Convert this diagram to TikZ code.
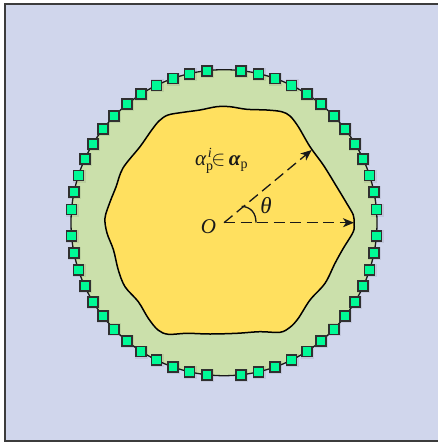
\documentclass[tikz,border=0pt]{standalone}
\usepackage{fix-cm}
\usepackage{amsmath}
\usepackage{fontspec}
\setmainfont{Liberation Serif}
\usetikzlibrary{arrows.meta}
\definecolor{bgblue}{RGB}{208,214,236}
\definecolor{ringgreen}{RGB}{203,224,171}
\definecolor{coreyellow}{RGB}{255,224,95}
\definecolor{sqgreen}{RGB}{0,250,150}
\definecolor{inkdark}{RGB}{25,25,25}
\tikzset{
  frameline/.style={draw=inkdark!85!white,line width=1.4pt,fill=bgblue},
  ringshape/.style={draw=inkdark,line width=1.3pt,fill=ringgreen},
  coreshape/.style={draw=black,line width=1.5pt,fill=coreyellow},
  elem/.style={draw=inkdark!90!white,line width=1.7pt,fill=sqgreen,minimum size=10pt,inner sep=0pt,outer sep=0pt},
  elemshadow/.style={fill=black,fill opacity=.07,minimum size=13pt,inner sep=0pt,draw=none},
  ray/.style={draw=inkdark,line width=1.3pt,dash pattern=on 11pt off 5.5pt,-{Stealth[length=11pt,width=9pt,inset=3pt]}},
  anglearc/.style={draw=inkdark,line width=1.3pt},
  lbl/.style={inner sep=0pt,text=inkdark,font=\fontsize{21}{23}\selectfont}
}
\begin{document}
\begin{tikzpicture}[x=1pt,y=-1pt]
\useasboundingbox (0,0) rectangle (438,442);
\fill[white] (0,0) rectangle (438,442);
\path[frameline] (5,4) rectangle (439,441);
\coordinate (C) at (224,222.7);
\node[circle,ringshape,minimum size=306pt,inner sep=0pt] (ring) at (C) {};
\path[coreshape] plot[smooth cycle,tension=0.55] coordinates {
 (105,218) (110,202) (116,187) (123,168) (140,146.7) (151,131) (159,121) (168,115)
 (183.3,112.3) (200,110) (216.7,106.7) (230,106.7) (246.7,109.3) (266.7,110) (281.7,111.7) (290,116)
 (298.3,126.7) (310,146.7) (323.3,165) (336.7,186.7) (346.7,203.3) (353.3,215) (354,223) (353.3,231.7)
 (343.3,248.3) (335,263.3) (325,283.3) (310,300) (298.3,318.3) (290,327.3) (280,332.3) (260,331.7)
 (236.7,333.3) (210,334) (186.7,333.3) (168.3,334.3) (158,330) (148.3,318.3) (138.3,301.7)
 (125,286.7) (118.3,270) (113.5,250) (107,233)};
\foreach \k in {0,...,12}{
  \pgfmathsetmacro{\aa}{4.9+6.55*\k}
  \foreach \q/\sx/\sy in {a/1/1,b/-1/1,c/-1/-1,d/1/-1}{
    \pgfmathsetmacro{\px}{224+\sx*153*cos(\aa)}
    \pgfmathsetmacro{\py}{222.7+\sy*153*sin(\aa)}
    \node[elemshadow] at (\px+.6,\py+.6) {};
    \node[elem] (s\q\k) at (\px,\py) {};
  }
}
\coordinate (origin) at (224,222.7);
\coordinate (tipA) at (311.7,150);
\coordinate (tipB) at (354,222.7);
\coordinate (arcA) at (256,222.7);
\coordinate (arcB) at (241.7,206.3);
\draw[ray] (origin) -- (tipA);
\draw[ray] (origin) -- (tipB);
\draw[anglearc] (arcA) .. controls (256,213) and (251,207) .. (arcB);
\node[lbl,anchor=center] (lblO) at (208.5,227) {\itshape O};
\node[lbl,anchor=center] (lblT) at (266,206) {\fontsize{23}{25}\selectfont\itshape θ};
\node[lbl,anchor=base west] (lblA) at (195,165) {$\hbox{\itshape α}_{\hbox{\fontsize{14}{15}\selectfont p}}^{\mkern2mu\hbox{\fontsize{14}{15}\selectfont\itshape i}}\mkern-2mu{\in}\mkern3mu\hbox{\bfseries\itshape α}_{\hbox{\fontsize{14}{15}\selectfont p}}$};
\end{tikzpicture}
\end{document}
